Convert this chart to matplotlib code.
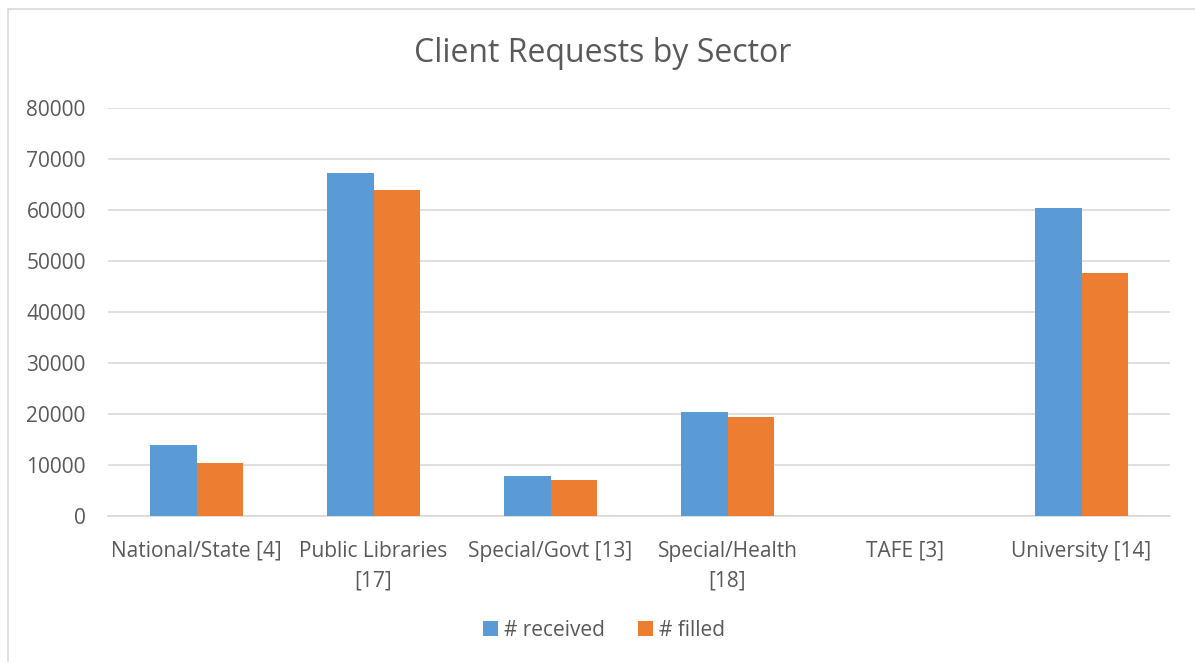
import numpy as np
import matplotlib.pyplot as plt
from matplotlib.patches import Rectangle

# data
sectors = ['National/State [4]', 'Public Libraries\n[17]', 'Special/Govt [13]',
           'Special/Health\n[18]', 'TAFE [3]', 'University [14]']
received = [13900, 67300, 7800, 20400, 0, 60400]
filled = [10400, 63900, 7000, 19400, 0, 47700]
yticks = np.arange(0, 80001, 10000)

plt.rcParams['font.family'] = ['Open Sans', 'DejaVu Sans']
txt = '#595959'

fig = plt.figure(figsize=(11.95, 6.62), dpi=100)
# outer chart frame (only left/top visible in the crop)
fig.patches.append(Rectangle((8/1195, -0.1), 1.2, 1 - 9/662 + 0.1, transform=fig.transFigure,
                             fill=False, edgecolor='#d9d9d9', lw=1.2))

ax = fig.add_axes([108/1195, 1 - 516/662, (1170 - 108)/1195, (516 - 108)/662])

x = np.arange(len(sectors))
w = 0.263
ax.bar(x - w/2, received, w, color='#5B9BD5', label='# received', zorder=3)
ax.bar(x + w/2, filled, w, color='#ED7D31', label='# filled', zorder=3)

ax.set_xlim(-0.5, len(sectors) - 0.5)
ax.set_ylim(0, 80000)
ax.set_yticks(yticks)
ax.set_yticklabels([str(v) for v in yticks])
ax.set_xticks(x)
ax.set_xticklabels(sectors, linespacing=1.5)
ax.grid(axis='y', color='#d9d9d9', lw=1.2, zorder=0)
for s in ['top', 'right', 'left']:
    ax.spines[s].set_visible(False)
ax.spines['bottom'].set_color('#d9d9d9')
ax.spines['bottom'].set_linewidth(1.2)
ax.tick_params(length=0, labelsize=15, colors=txt)
ax.tick_params(axis='y', pad=16)
ax.tick_params(axis='x', pad=18)

fig.text(603/1195, 1 - 53/662, 'Client Requests by Sector', ha='center', va='center',
         fontsize=23, color=txt)

fig.legend(loc='center', bbox_to_anchor=(604/1195, 1 - 630/662), ncol=2, frameon=False,
           fontsize=15, handlelength=0.7, handleheight=0.7, handletextpad=0.3,
           columnspacing=1.6, labelcolor=txt)

plt.savefig('out.png')
